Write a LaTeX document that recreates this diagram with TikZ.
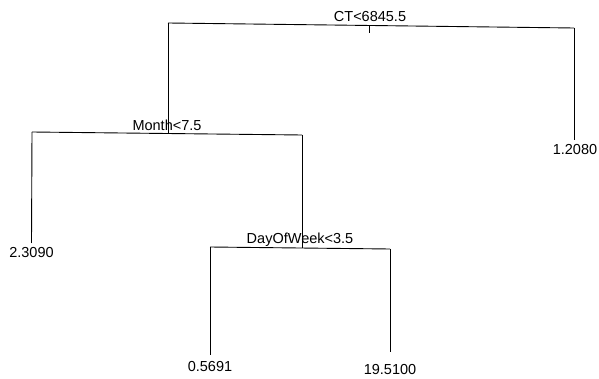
\documentclass[tikz,border=0pt]{standalone}
\usepackage{fontspec}
\setmainfont{Liberation Sans}
\begin{document}
\begin{tikzpicture}[x=1pt,y=-1pt,
  lbl/.style={font=\fontsize{14.5}{17}\selectfont, inner sep=0pt, anchor=base},
  branch/.style={line width=0.9pt, black}]
\useasboundingbox[fill=white] (0,0) rectangle (599,379);
% split labels
\node[lbl] (ct) at (370,21.5) {CT<6845.5};
\node[lbl] (month) at (167,131) {Month<7.5};
\node[lbl] (dow) at (300,243.3) {DayOfWeek<3.5};
% leaf labels
\node[lbl] (l1) at (575,155) {1.2080};
\node[lbl] (l2) at (31.5,257.3) {2.3090};
\node[lbl] (l3) at (210,371.7) {0.5691};
\node[lbl] (l4) at (390,374.3) {19.5100};
% split geometry
\coordinate (ctL) at (168,23);
\coordinate (ctR) at (574,28);
\coordinate (ctS) at (369,25.5);
\coordinate (ctSb) at (369,33);
\coordinate (moL) at (32,132);
\coordinate (moR) at (302,135);
\coordinate (moS) at (168,133.5);
\coordinate (dwL) at (210,247);
\coordinate (dwR) at (390,249);
\coordinate (dwS) at (302,248);
% leaf ends
\coordinate (e1) at (574,140);
\coordinate (e2) at (31.5,243);
\coordinate (e3) at (210,355);
\coordinate (e4) at (390,352);
% branches
\draw[branch] (ctL) -- (ctR);
\draw[branch] (ctS) -- (ctSb);
\draw[branch] (ctL) -- (moS);
\draw[branch] (ctR) -- (e1);
\draw[branch] (moL) -- (moR);
\draw[branch] (moL) -- (e2);
\draw[branch] (moR) -- (dwS);
\draw[branch] (dwL) -- (dwR);
\draw[branch] (dwL) -- (e3);
\draw[branch] (dwR) -- (e4);
\end{tikzpicture}
\end{document}
